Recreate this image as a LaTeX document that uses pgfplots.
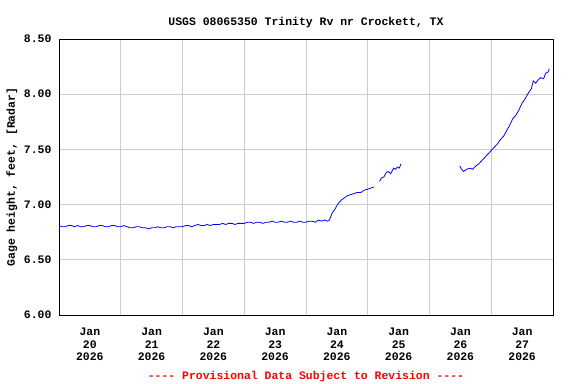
\documentclass[border=0pt]{standalone}
\usepackage{pgfplots}
\pgfplotsset{compat=1.18}
\usepackage{fontspec}
\setmainfont{Liberation Mono}
\setmonofont{Liberation Mono}
\definecolor{gridgray}{HTML}{CCCCCC}
\begin{document}
\begin{tikzpicture}
\begin{axis}[
  scale only axis, width=494bp, height=276bp,
  xmin=0, xmax=8, ymin=6, ymax=8.5,
  font=\bfseries\fontsize{11.5}{13}\selectfont,
  /pgf/number format/assume math mode=true,
  ytick={6,6.5,7,7.5,8,8.5},
  yticklabel style={xshift=-4bp, /pgf/number format/fixed, /pgf/number format/fixed zerofill, /pgf/number format/precision=2},
  xtick={0.5,1.5,...,7.5},
  xticklabels={Jan\\20\\2026,Jan\\21\\2026,Jan\\22\\2026,Jan\\23\\2026,Jan\\24\\2026,Jan\\25\\2026,Jan\\26\\2026,Jan\\27\\2026},
  xticklabel style={align=center, yshift=-9bp, font=\bfseries\fontsize{11.5}{13}\selectfont},
  minor xtick={1,2,...,7},
  xminorgrids, ymajorgrids,
  grid style={gridgray, line width=0.8pt},
  minor grid style={gridgray, line width=0.8pt},
  major tick length=0pt, minor tick length=0pt,
  axis line style={black, line width=0.9pt},
  ylabel={Gage height, feet, [Radar]},
  ylabel style={at={(axis description cs:-0.0955,0.5)}, anchor=center, rotate=0},
  title={USGS 08065350 Trinity Rv nr Crockett, TX},
  title style={at={(axis description cs:0.5,1)}, anchor=base, yshift=8bp},
  clip=true,
]
\addplot[blue, line width=0.8pt] coordinates {
(0.0,6.81)(0.05,6.80)(0.1,6.80)(0.15,6.81)(0.2,6.81)(0.25,6.80)(0.3,6.81)(0.35,6.80)(0.4,6.80)(0.45,6.81)(0.5,6.81)(0.55,6.80)(0.6,6.80)(0.65,6.81)(0.7,6.81)(0.75,6.80)(0.8,6.80)(0.85,6.81)(0.9,6.81)(0.95,6.80)
(1.0,6.80)(1.05,6.81)(1.1,6.80)(1.15,6.79)(1.2,6.79)(1.25,6.80)(1.3,6.80)(1.35,6.79)(1.4,6.79)(1.45,6.78)(1.5,6.79)(1.55,6.79)(1.6,6.80)(1.65,6.79)(1.7,6.79)(1.75,6.80)(1.8,6.80)(1.85,6.79)(1.9,6.80)(1.95,6.80)
(2.0,6.80)(2.05,6.81)(2.1,6.81)(2.15,6.80)(2.2,6.81)(2.25,6.82)(2.3,6.81)(2.35,6.81)(2.4,6.82)(2.45,6.81)(2.5,6.82)(2.55,6.82)(2.6,6.82)(2.65,6.83)(2.7,6.82)(2.75,6.83)(2.8,6.83)(2.85,6.82)(2.9,6.83)(2.95,6.83)
(3.0,6.83)(3.05,6.84)(3.1,6.84)(3.15,6.83)(3.2,6.84)(3.25,6.84)(3.3,6.83)(3.35,6.84)(3.4,6.84)(3.45,6.85)(3.5,6.84)(3.55,6.84)(3.6,6.85)(3.65,6.84)(3.7,6.84)(3.75,6.85)(3.8,6.84)(3.85,6.84)(3.9,6.85)(3.95,6.84)
(4.0,6.84)(4.05,6.85)(4.1,6.85)(4.15,6.84)(4.2,6.86)(4.25,6.85)(4.3,6.86)(4.35,6.85)(4.38,6.86)(4.42,6.92)(4.47,6.96)(4.51,7.00)(4.57,7.04)(4.62,7.06)(4.67,7.08)(4.72,7.09)(4.78,7.10)(4.83,7.11)(4.89,7.11)(4.94,7.13)(5.0,7.14)(5.05,7.15)(5.10,7.16)
};
\addplot[blue, line width=0.8pt] coordinates {
(5.19,7.21)(5.22,7.24)(5.26,7.25)(5.30,7.29)(5.33,7.30)(5.37,7.28)(5.42,7.33)(5.45,7.32)(5.48,7.34)(5.51,7.33)(5.54,7.37)
};
\addplot[blue, line width=0.8pt] coordinates {
(6.49,7.35)(6.52,7.32)(6.55,7.30)(6.60,7.32)(6.65,7.33)(6.70,7.32)(6.75,7.35)(6.80,7.37)(6.85,7.40)(6.90,7.43)(6.95,7.46)(7.00,7.49)(7.05,7.52)(7.10,7.55)(7.15,7.59)(7.20,7.62)(7.25,7.67)(7.30,7.72)(7.35,7.78)(7.40,7.81)(7.45,7.86)(7.50,7.92)(7.55,7.96)(7.60,8.01)(7.65,8.05)(7.68,8.12)(7.72,8.10)(7.76,8.13)(7.80,8.15)(7.85,8.14)(7.88,8.19)(7.92,8.20)(7.94,8.23)
};
\end{axis}
\node[text=red, font=\bfseries\fontsize{11.5}{13}\selectfont] at (247bp,-62bp) {{-}{-}{-}{-} Provisional Data Subject to Revision {-}{-}{-}{-}};
\pgfresetboundingbox
\path[use as bounding box] (-59bp,-69bp) rectangle (517bp,315bp);
\end{tikzpicture}
\end{document}
